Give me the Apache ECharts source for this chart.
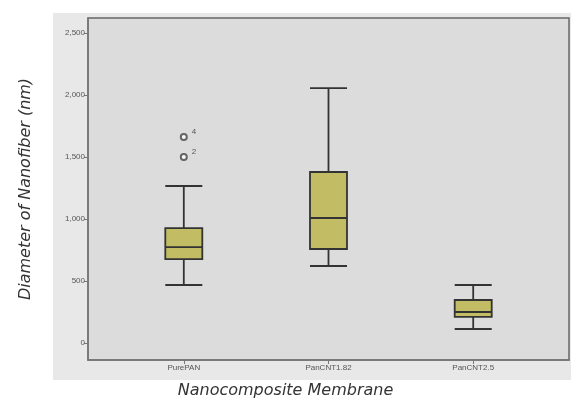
<!DOCTYPE html>
<html>
<head>
<meta charset="utf-8">
<script src="https://cdn.jsdelivr.net/npm/echarts@6/dist/echarts.min.js"></script>
<style>
  html, body { margin: 0; padding: 0; background: #fff; }
  #chart { width: 571px; height: 398px; }
</style>
</head>
<body>
<div id="chart"></div>
<script>
    // groups on the x axis
    const categories = ['PurePAN', 'PanCNT1.82', 'PanCNT2.5']
    // [min, Q1, median, Q3, max] per group, nm
    const boxValues = [
        [468, 677, 774, 927, 1266],
        [621, 758, 1008, 1379, 2056],
        [113, 210, 250, 347, 468]
    ]
    // outliers: [group index, value, case label]
    const outliers = [
        [0, 1661, '4'],
        [0, 1500, '2']
    ]
    const yTicks = [0, 500, 1000, 1500, 2000, 2500]

    const chart = echarts.init(document.getElementById('chart'))
    const textColor = '#555'

    const option = {
        animation: false,
        graphic: [
            {
                type: 'rect',
                z: -10,
                shape: { x: 53, y: 13, width: 518, height: 367 },
                style: { fill: '#e8e8e8' }
            }
        ],
        title: {
            text: 'Nanocomposite Membrane',
            left: 'center',
            top: 378,
            textStyle: {
                fontFamily: 'DejaVu Sans',
                fontStyle: 'italic',
                fontWeight: 'normal',
                fontSize: 16,
                color: '#333'
            }
        },
        grid: {
            left: 88,
            top: 18,
            right: 2,
            bottom: 38,
            show: true,
            backgroundColor: '#dcdcdc',
            borderColor: '#666',
            borderWidth: 1.5
        },
        xAxis: {
            type: 'value',
            min: -0.662,
            max: 2.662,
            splitLine: { show: false },
            axisLine: { show: true, onZero: false, lineStyle: { color: '#777', width: 1.5 } },
            axisTick: { show: true, length: 4, customValues: [0, 1, 2], lineStyle: { color: '#777' } },
            axisLabel: {
                customValues: [0, 1, 2],
                formatter: v => categories[Math.round(v)] || '',
                fontSize: 8,
                color: textColor,
                margin: 4
            }
        },
        yAxis: {
            type: 'value',
            min: -137,
            max: 2621,
            name: 'Diameter of Nanofiber (nm)',
            nameLocation: 'middle',
            nameGap: 54,
            nameTextStyle: {
                fontFamily: 'DejaVu Sans',
                fontStyle: 'italic',
                fontSize: 16,
                color: '#333'
            },
            splitLine: { show: false },
            axisLine: { show: true, onZero: false, lineStyle: { color: '#777', width: 1.5 } },
            axisTick: { show: true, length: 4, customValues: yTicks, lineStyle: { color: '#777' } },
            axisLabel: {
                customValues: yTicks,
                formatter: v => v.toLocaleString('en-US'),
                fontSize: 8,
                color: textColor,
                margin: 3
            }
        },
        series: [
            {
                type: 'boxplot',
                boxWidth: [37, 37],
                data: boxValues.map((b, i) => [i].concat(b)),
                itemStyle: {
                    color: '#c2bc64',
                    borderColor: '#333',
                    borderWidth: 1.8
                }
            },
            {
                type: 'scatter',
                symbol: 'emptyCircle',
                symbolSize: 6,
                data: outliers.map(o => ({ value: [o[0], o[1]], label: o[2] })),
                itemStyle: { color: '#444', borderColor: '#444', borderWidth: 1 },
                label: {
                    show: true,
                    position: 'right',
                    offset: [-1, -5],
                    formatter: p => p.data.label,
                    fontSize: 8,
                    color: '#333'
                }
            }
        ]
    }
    chart.setOption(option)
</script>
</body>
</html>
